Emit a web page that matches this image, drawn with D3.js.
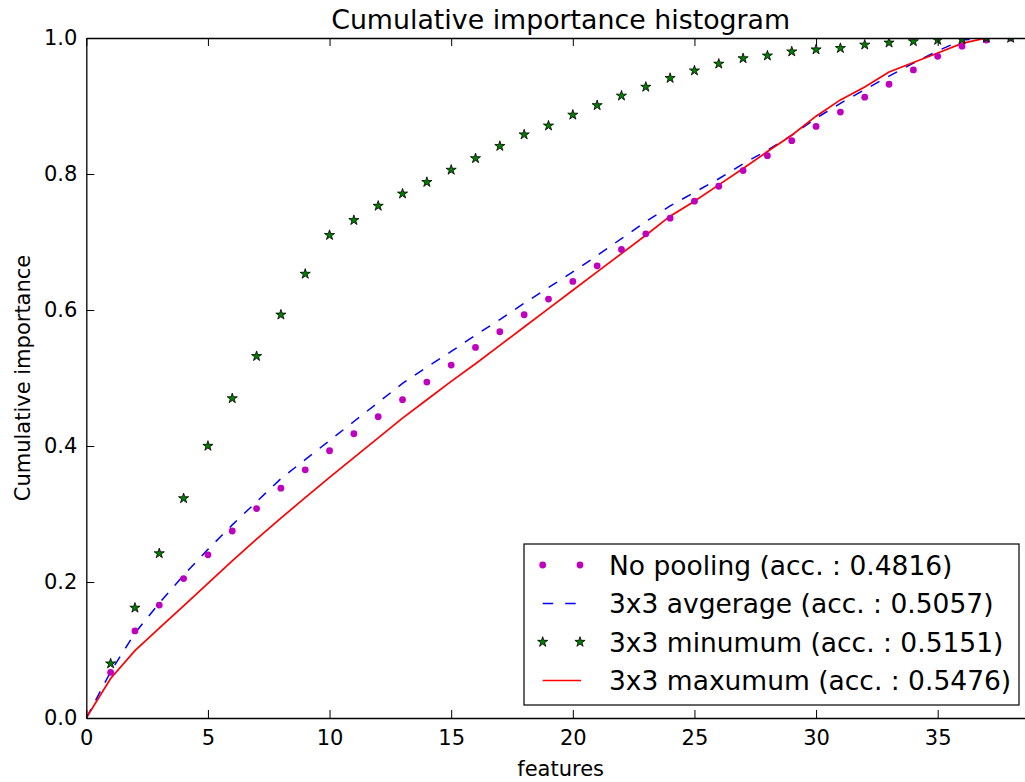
<!DOCTYPE html>
<html>
<head>
<meta charset="utf-8">
<script src="https://cdn.jsdelivr.net/npm/d3@7"></script>
<style>
  body { margin: 0; background: #fff; }
  svg { display: block; font-family: "DejaVu Sans", sans-serif; }
</style>
</head>
<body>
<svg width="1025" height="782"></svg>
<script>
// feature index on the x axis
const features = [0, 1, 2, 3, 4, 5, 6, 7, 8, 9, 10, 11, 12, 13, 14, 15, 16, 17, 18, 19,
  20, 21, 22, 23, 24, 25, 26, 27, 28, 29, 30, 31, 32, 33, 34, 35, 36, 37, 38];

// cumulative importance per model
const noPooling = [0, 0.067, 0.128, 0.166, 0.205, 0.240, 0.275, 0.308, 0.338, 0.365, 0.393,
  0.418, 0.443, 0.468, 0.494, 0.519, 0.545, 0.568, 0.593, 0.616, 0.642, 0.665, 0.689,
  0.712, 0.735, 0.760, 0.782, 0.805, 0.827, 0.849, 0.870, 0.891, 0.913, 0.932, 0.953,
  0.973, 0.988, 0.997, 1.0];
const avgPool = [0, 0.068, 0.125, 0.169, 0.210, 0.248, 0.284, 0.318, 0.352, 0.380, 0.408,
  0.436, 0.464, 0.492, 0.516, 0.539, 0.563, 0.586, 0.610, 0.633, 0.656, 0.680, 0.705,
  0.730, 0.753, 0.773, 0.793, 0.815, 0.835, 0.857, 0.882, 0.904, 0.924, 0.944, 0.963,
  0.981, 0.997, 1.0, 1.0];
const minPool = [0, 0.080, 0.162, 0.242, 0.323, 0.400, 0.470, 0.532, 0.593, 0.653, 0.710,
  0.732, 0.753, 0.771, 0.788, 0.806, 0.823, 0.841, 0.858, 0.871, 0.887, 0.901, 0.915,
  0.928, 0.941, 0.952, 0.962, 0.970, 0.974, 0.980, 0.983, 0.985, 0.990, 0.993, 0.995,
  0.997, 0.998, 1.0, 1.0];
const maxPool = [0, 0.058, 0.099, 0.132, 0.165, 0.198, 0.231, 0.263, 0.294, 0.324, 0.354,
  0.383, 0.412, 0.441, 0.468, 0.495, 0.521, 0.548, 0.575, 0.602, 0.629, 0.656, 0.683,
  0.710, 0.738, 0.760, 0.784, 0.808, 0.833, 0.857, 0.885, 0.909, 0.928, 0.950, 0.964,
  0.978, 0.992, 1.0, 1.0];

const xTicks = [0, 5, 10, 15, 20, 25, 30, 35];
const yTicks = [0.0, 0.2, 0.4, 0.6, 0.8, 1.0];
const legendLabels = [
  'No pooling (acc. : 0.4816)',
  '3x3 avgerage (acc. : 0.5057)',
  '3x3 minumum (acc. : 0.5151)',
  '3x3 maxumum (acc. : 0.5476)'
];

const svg = d3.select('svg');
const pLeft = 86.3, pRight = 1035, pTop = 38, pBottom = 718;

const x = d3.scaleLinear().domain([0, 39]).range([pLeft, pRight]);
const y = d3.scaleLinear().domain([0, 1]).range([pBottom, pTop]);

svg.append('defs').append('clipPath').attr('id', 'plotclip')
  .append('rect')
  .attr('x', pLeft).attr('y', pTop)
  .attr('width', pRight - pLeft).attr('height', pBottom - pTop);

const plot = svg.append('g').attr('clip-path', 'url(#plotclip)');

const line = (vals) => d3.line()
  .x((d, i) => x(features[i]))
  .y((d) => y(d))(vals);

// blue dashed - average pooling
plot.append('path')
  .attr('d', line(avgPool))
  .attr('fill', 'none')
  .attr('stroke', '#0000ff')
  .attr('stroke-width', 1.5)
  .attr('stroke-dasharray', '10,10');

// red solid - max pooling
plot.append('path')
  .attr('d', line(maxPool))
  .attr('fill', 'none')
  .attr('stroke', '#ff0000')
  .attr('stroke-width', 1.7);

// magenta dots - no pooling (skip the origin)
plot.append('g')
  .selectAll('circle')
  .data(noPooling.slice(1))
  .enter()
  .append('circle')
  .attr('cx', (d, i) => x(features[i + 1]))
  .attr('cy', (d) => y(d))
  .attr('r', 3.4)
  .attr('fill', '#bf00bf');

// green stars - min pooling
const star = d3.symbol().type(d3.symbolStar).size(32);
plot.append('g')
  .selectAll('path')
  .data(minPool.slice(1))
  .enter()
  .append('path')
  .attr('d', star)
  .attr('transform', (d, i) => `translate(${x(features[i + 1])},${y(d)})`)
  .attr('fill', '#007f00')
  .attr('stroke', '#000')
  .attr('stroke-width', 0.8);

// axes, ticks pointing inwards
const styleAxis = (g) => {
  g.select('.domain').attr('stroke', '#000').attr('stroke-width', 1.3);
  g.selectAll('.tick line').attr('stroke', '#000').attr('stroke-width', 1);
  g.selectAll('.tick text').attr('fill', '#000');
};

svg.append('g')
  .attr('transform', `translate(0,${pBottom})`)
  .call(d3.axisBottom(x).tickValues(xTicks).tickSize(-8).tickSizeOuter(0)
    .tickPadding(12).tickFormat(d3.format('d')))
  .attr('font-size', 21).attr('font-family', 'DejaVu Sans')
  .call(styleAxis);

svg.append('g')
  .attr('transform', `translate(0,${pTop})`)
  .call(d3.axisTop(x).tickValues(xTicks).tickSize(-8).tickSizeOuter(0).tickFormat(''))
  .call(styleAxis);

svg.append('g')
  .attr('transform', `translate(${pLeft},0)`)
  .call(d3.axisLeft(y).tickValues(yTicks).tickSize(-8).tickSizeOuter(0)
    .tickPadding(9).tickFormat(d3.format('.1f')))
  .attr('font-size', 21).attr('font-family', 'DejaVu Sans')
  .call(styleAxis);

svg.append('g')
  .attr('transform', `translate(${pRight},0)`)
  .call(d3.axisRight(y).tickValues(yTicks).tickSize(-8).tickSizeOuter(0).tickFormat(''))
  .call(styleAxis);

// title and axis labels
svg.append('text')
  .attr('x', (pLeft + pRight) / 2).attr('y', 29)
  .attr('text-anchor', 'middle')
  .attr('font-size', 26.8)
  .text('Cumulative importance histogram');

svg.append('text')
  .attr('x', (pLeft + pRight) / 2).attr('y', 776)
  .attr('text-anchor', 'middle')
  .attr('font-size', 21)
  .text('features');

svg.append('text')
  .attr('transform', `translate(30,${(pTop + pBottom) / 2}) rotate(-90)`)
  .attr('text-anchor', 'middle')
  .attr('font-size', 21)
  .text('Cumulative importance');

// legend
const lg = svg.append('g');
lg.append('rect')
  .attr('x', 524).attr('y', 544)
  .attr('width', 495).attr('height', 161)
  .attr('fill', '#fff')
  .attr('stroke', '#000')
  .attr('stroke-width', 1.2);

const rowY = (i) => 565 + i * 38.5;
const m1 = 542.7, m2 = 580;

lg.selectAll('text')
  .data(legendLabels)
  .enter()
  .append('text')
  .attr('x', 609)
  .attr('y', (d, i) => rowY(i))
  .attr('dy', '0.36em')
  .attr('font-size', 26.5)
  .text((d) => d);

lg.selectAll('circle')
  .data([m1, m2])
  .enter()
  .append('circle')
  .attr('cx', (d) => d).attr('cy', rowY(0))
  .attr('r', 3.4).attr('fill', '#bf00bf');

lg.append('line')
  .attr('x1', m1).attr('x2', 577)
  .attr('y1', rowY(1)).attr('y2', rowY(1))
  .attr('stroke', '#0000ff').attr('stroke-width', 1.5)
  .attr('stroke-dasharray', '10.5,12');

lg.selectAll('path.lstar')
  .data([m1, m2])
  .enter()
  .append('path')
  .attr('class', 'lstar')
  .attr('d', star)
  .attr('transform', (d) => `translate(${d},${rowY(2)})`)
  .attr('fill', '#007f00')
  .attr('stroke', '#000')
  .attr('stroke-width', 0.8);

lg.append('line')
  .attr('x1', m1).attr('x2', 581)
  .attr('y1', rowY(3)).attr('y2', rowY(3))
  .attr('stroke', '#ff0000').attr('stroke-width', 1.7);
</script>
</body>
</html>
